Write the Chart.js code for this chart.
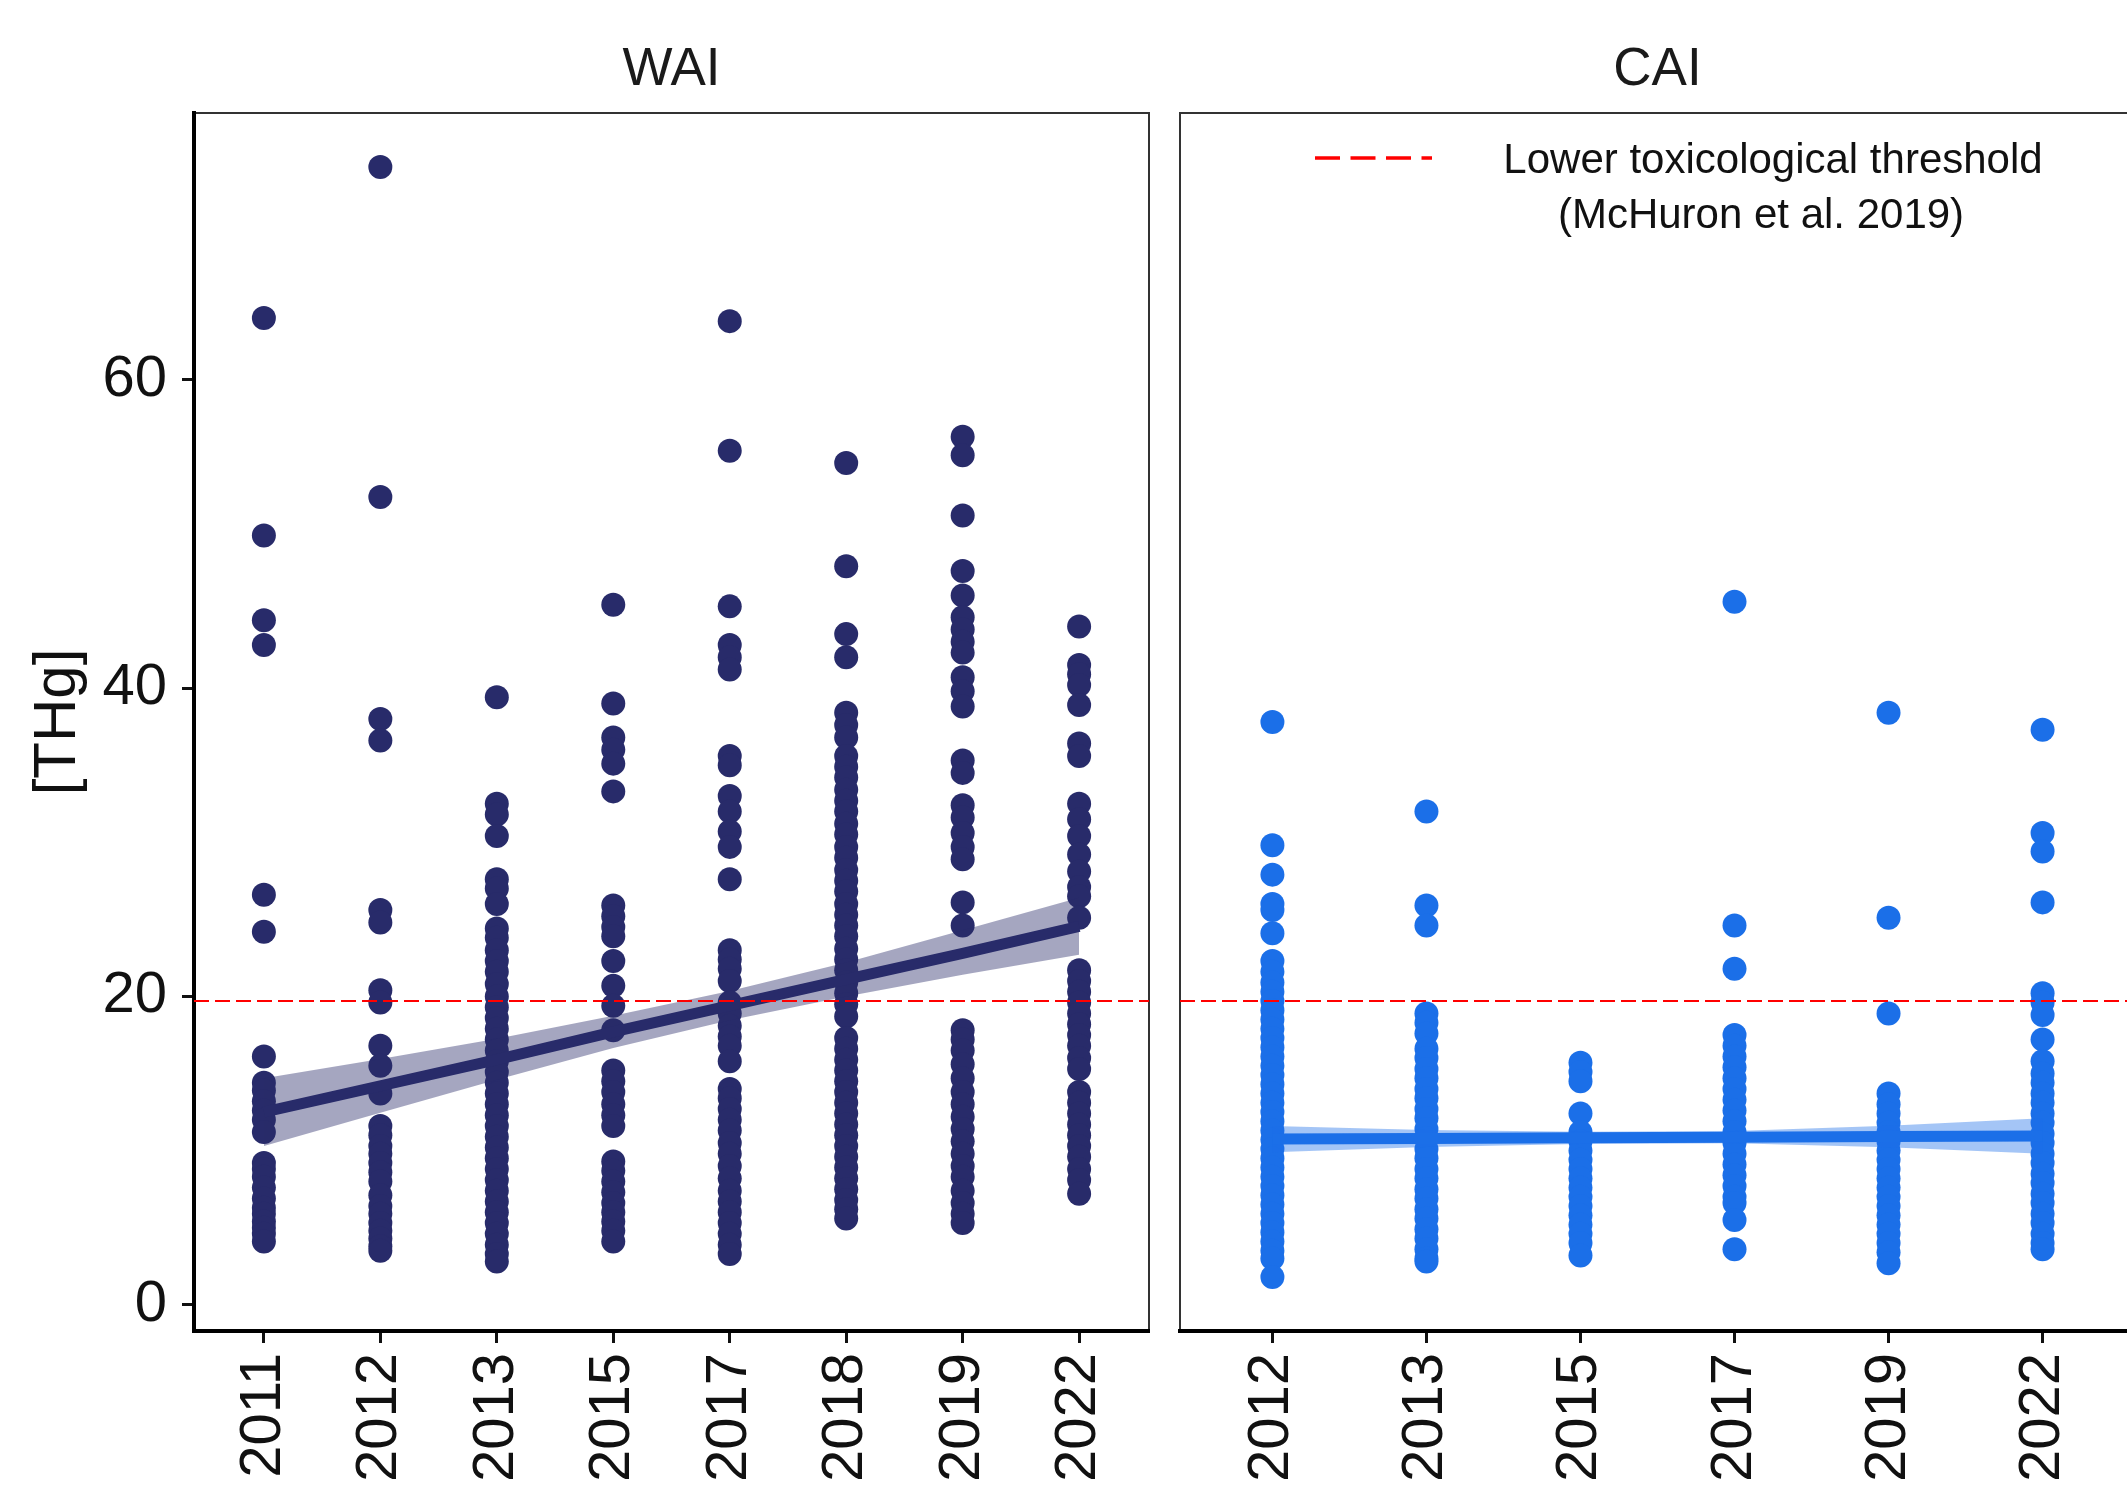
<!DOCTYPE html>
<html>
<head>
<meta charset="utf-8">
<title>THg by year – WAI and CAI</title>
<script src="https://cdn.jsdelivr.net/npm/chart.js@4.4.1/dist/chart.umd.min.js"></script>
<style>
  html, body { margin: 0; padding: 0; background: #ffffff; overflow: hidden; width: 2127px; height: 1487px; }
  #wai { position: absolute; left: 0; top: 0; width: 1165px; height: 1487px; }
  #cai { position: absolute; left: 1165px; top: 0; width: 990px; height: 1487px; }
</style>
</head>
<body>
<canvas id="wai" width="1165" height="1487"></canvas>
<canvas id="cai" width="990" height="1487"></canvas>
<script>
// ---- WAI: THg per sampling year ----
const waiYears = ['2011', '2012', '2013', '2015', '2017', '2018', '2019', '2022'];
const wai2011 = [64.0, 49.9, 44.4, 42.8, 26.6, 24.2, 16.1, 14.4, 13.9, 13.2, 12.6, 12.0, 11.2, 9.2, 8.8, 8.3, 7.6, 6.9, 6.3, 5.9, 5.4, 5.0, 4.6, 4.1];
const wai2012 = [73.8, 52.4, 38.0, 36.6, 25.6, 24.8, 20.4, 19.6, 16.8, 15.5, 13.7, 11.6, 11.0, 10.3, 9.8, 9.2, 8.6, 8.0, 7.1, 6.4, 5.9, 5.3, 4.8, 4.3, 3.8, 3.5];
const wai2013 = [39.4, 32.5, 31.8, 30.4, 27.6, 27.0, 26.0, 24.4, 23.8, 23.0, 22.3, 21.6, 20.8, 20.0, 19.3, 18.6, 17.9, 17.2, 16.5, 15.8, 15.1, 14.4, 13.7, 13.0, 12.3, 11.6, 10.9, 10.2, 9.5, 8.8, 8.1, 7.4, 6.7, 6.0, 5.3, 4.6, 3.9, 3.3, 2.8];
const wai2015 = [45.4, 39.0, 36.8, 36.0, 35.1, 33.3, 25.9, 25.2, 24.5, 23.9, 22.3, 20.7, 19.4, 17.8, 15.2, 14.5, 13.8, 13.0, 12.3, 11.6, 9.3, 8.7, 8.0, 7.3, 6.6, 6.0, 5.4, 4.8, 4.1];
const wai2017 = [63.8, 55.4, 45.3, 42.8, 42.0, 41.2, 35.6, 35.0, 33.0, 32.0, 30.7, 29.7, 27.6, 23.0, 22.4, 21.8, 21.0, 19.6, 18.9, 18.1, 17.4, 16.8, 15.8, 14.0, 13.4, 12.7, 12.0, 11.3, 10.5, 9.8, 9.0, 8.2, 7.4, 6.7, 6.0, 5.3, 4.6, 3.9, 3.3];
const wai2018 = [54.6, 47.9, 43.5, 42.0, 38.4, 37.6, 36.8, 35.6, 34.9, 34.2, 33.4, 32.7, 32.0, 31.2, 30.5, 29.7, 29.0, 28.2, 27.5, 26.8, 26.0, 25.3, 24.6, 23.9, 23.1, 22.4, 21.7, 20.9, 20.2, 19.5, 18.7, 17.3, 16.6, 15.9, 15.2, 14.5, 13.8, 13.1, 12.4, 11.7, 11.0, 10.3, 9.6, 8.9, 8.2, 7.5, 6.8, 6.2, 5.6];
const wai2019 = [56.3, 55.1, 51.2, 47.6, 46.0, 44.6, 43.8, 43.0, 42.3, 40.7, 39.8, 38.8, 35.3, 34.5, 32.4, 31.6, 30.6, 29.7, 28.9, 26.1, 24.6, 17.8, 17.2, 16.5, 15.6, 14.7, 13.8, 13.0, 12.2, 11.4, 10.6, 9.8, 9.0, 8.3, 7.4, 6.6, 5.9, 5.3];
const wai2022 = [44.0, 41.5, 40.9, 40.2, 38.9, 36.4, 35.6, 32.5, 31.5, 30.4, 29.2, 28.1, 27.1, 26.5, 25.1, 21.7, 21.0, 20.3, 19.6, 18.9, 18.2, 17.5, 16.8, 16.0, 15.3, 13.8, 13.1, 12.4, 11.7, 11.0, 10.3, 9.6, 8.8, 8.1, 7.2];
// linear trend and its confidence band, one value per year
const waiFit   = [12.5, 14.2, 15.9, 17.7, 19.4, 21.1, 22.8, 24.55];
const waiLower = [10.3, 12.45, 14.6, 16.65, 18.45, 20.0, 21.4, 22.7];
const waiUpper = [14.7, 15.95, 17.25, 18.75, 20.35, 22.2, 24.3, 26.4];

// ---- CAI: THg per sampling year ----
const caiYears = ['2012', '2013', '2015', '2017', '2019', '2022'];
const cai2012 = [37.8, 29.8, 27.9, 26.0, 25.6, 24.1, 22.3, 21.6, 20.9, 20.3, 19.7, 19.1, 18.5, 17.9, 17.3, 16.7, 16.1, 15.5, 14.9, 14.3, 13.7, 13.1, 12.5, 11.9, 11.3, 10.7, 10.1, 9.5, 8.9, 8.3, 7.7, 7.1, 6.5, 5.9, 5.3, 4.7, 4.1, 3.5, 3.0, 1.8];
const cai2013 = [32.0, 25.9, 24.6, 18.9, 18.3, 17.6, 16.6, 16.0, 15.3, 14.7, 14.0, 13.4, 12.7, 12.1, 11.4, 10.8, 10.1, 9.5, 8.8, 8.2, 7.5, 6.9, 6.2, 5.6, 4.9, 4.3, 3.6, 3.0, 2.8];
const cai2015 = [15.7, 15.1, 14.5, 12.4, 11.2, 10.6, 10.0, 9.4, 8.8, 8.2, 7.6, 7.0, 6.4, 5.8, 5.2, 4.6, 4.0, 3.2];
const cai2017 = [45.6, 24.6, 21.8, 17.5, 16.8, 16.1, 15.4, 14.7, 14.0, 13.3, 12.6, 11.9, 11.2, 10.5, 9.8, 9.1, 8.4, 7.7, 7.0, 6.6, 5.5, 3.6];
const cai2019 = [38.4, 25.1, 18.9, 13.7, 13.0, 12.4, 11.8, 11.2, 10.6, 10.0, 9.4, 8.8, 8.2, 7.6, 7.0, 6.4, 5.8, 5.2, 4.6, 4.0, 3.4, 2.7];
const cai2022 = [37.3, 30.6, 29.4, 26.1, 20.2, 19.6, 18.8, 17.2, 15.8, 15.0, 14.4, 13.7, 13.1, 12.4, 11.8, 11.1, 10.5, 9.8, 9.2, 8.5, 7.9, 7.2, 6.6, 5.9, 5.3, 4.6, 4.0, 3.6];
const caiFit   = [10.75, 10.79, 10.83, 10.87, 10.91, 10.95];
const caiLower = [9.9, 10.24, 10.43, 10.47, 10.21, 9.8];
const caiUpper = [11.6, 11.34, 11.23, 11.27, 11.61, 12.1];

// ---- shared reference values and labels ----
const threshold = 19.7;
const yTicks = [0, 20, 40, 60];
const yMin = -1.7;
const yMax = 77.3;
const yTitle = '[THg]';
const legendLabel = ['Lower toxicological threshold', '(McHuron et al. 2019)'];

const FONT = '"Liberation Sans", Arial, Helvetica, sans-serif';
const INK = '#111111';

function columnsToPoints(cols) {
  const pts = [];
  cols.forEach((vals, i) => vals.forEach(v => pts.push({ x: i + 1, y: v })));
  return pts;
}
function seriesToPoints(vals) {
  return vals.map((v, i) => ({ x: i + 1, y: v }));
}

// thin frame around the panel, drawn under the axis lines
const panelFrame = {
  id: 'panelFrame',
  beforeDraw(chart) {
    const a = chart.chartArea, ctx = chart.ctx;
    ctx.save();
    ctx.strokeStyle = '#333333';
    ctx.lineWidth = 2;
    ctx.strokeRect(a.left, a.top, a.right - a.left, a.bottom - a.top);
    ctx.restore();
  }
};

// facet strip title above each panel
const stripTitle = {
  id: 'stripTitle',
  afterDraw(chart, args, opts) {
    const a = chart.chartArea, ctx = chart.ctx;
    ctx.save();
    ctx.fillStyle = '#1a1a1a';
    ctx.font = '53px ' + FONT;
    ctx.textAlign = 'center';
    ctx.textBaseline = 'alphabetic';
    ctx.fillText(opts.text, (a.left + a.right) / 2, 85);
    ctx.restore();
  }
};

// key for the dashed threshold line
const thresholdKey = {
  id: 'thresholdKey',
  afterDraw(chart, args, opts) {
    if (!opts.show) return;
    const ctx = chart.ctx;
    ctx.save();
    ctx.strokeStyle = '#FF0000';
    ctx.lineWidth = 3.5;
    ctx.setLineDash([25, 10.5]);
    ctx.beginPath();
    ctx.moveTo(150, 158);
    ctx.lineTo(267, 158);
    ctx.stroke();
    ctx.setLineDash([]);
    ctx.fillStyle = INK;
    ctx.font = '42px ' + FONT;
    ctx.textAlign = 'center';
    ctx.textBaseline = 'alphabetic';
    ctx.fillText(legendLabel[0], 608, 173);
    ctx.fillText(legendLabel[1], 596, 228);
    ctx.restore();
  }
};

function makePanel(canvasId, cfg) {
  const n = cfg.years.length;
  const xMin = 0.4, xMax = n + 0.6;
  return new Chart(document.getElementById(canvasId), {
    type: 'scatter',
    data: {
      datasets: [
        {
          type: 'line', label: 'threshold',
          data: [{ x: xMin, y: threshold }, { x: xMax, y: threshold }],
          borderColor: '#FF0000', borderWidth: 2, borderDash: [15, 6],
          pointRadius: 0, fill: false, order: 0
        },
        {
          type: 'line', label: 'trend',
          data: seriesToPoints(cfg.fit),
          borderColor: cfg.color, borderWidth: 11, borderCapStyle: 'butt',
          pointRadius: 0, fill: false, tension: 0, order: 1
        },
        {
          type: 'line', label: 'upper',
          data: seriesToPoints(cfg.upper),
          borderColor: 'rgba(0,0,0,0)', borderWidth: 0,
          backgroundColor: cfg.band, fill: '+1',
          pointRadius: 0, tension: 0, order: 2
        },
        {
          type: 'line', label: 'lower',
          data: seriesToPoints(cfg.lower),
          borderColor: 'rgba(0,0,0,0)', borderWidth: 0,
          pointRadius: 0, fill: false, tension: 0, order: 3
        },
        {
          label: 'THg',
          data: columnsToPoints(cfg.columns),
          backgroundColor: cfg.color, borderWidth: 0,
          pointRadius: 12, pointHoverRadius: 12, order: 4
        }
      ]
    },
    options: {
      responsive: false,
      animation: false,
      events: [],
      layout: { padding: cfg.padding },
      plugins: {
        legend: { display: false },
        tooltip: { enabled: false },
        stripTitle: { text: cfg.title },
        thresholdKey: { show: cfg.showKey }
      },
      scales: {
        x: {
          type: 'linear', min: xMin, max: xMax,
          afterBuildTicks: s => { s.ticks = cfg.years.map((_, i) => ({ value: i + 1 })); },
          afterFit: s => { s.height = 156; },
          ticks: {
            callback: v => cfg.years[v - 1] ?? '',
            autoSkip: false, minRotation: 90, maxRotation: 90,
            font: { family: FONT, size: 58 }, color: INK, padding: 10
          },
          grid: { display: true, drawOnChartArea: false, drawTicks: true, tickLength: 12, tickWidth: 3, tickColor: INK },
          border: { display: true, color: '#000000', width: 4 }
        },
        y: {
          type: 'linear', min: yMin, max: yMax, display: cfg.showY,
          afterBuildTicks: s => { s.ticks = yTicks.map(v => ({ value: v })); },
          afterFit: s => { s.width = cfg.showY ? 194 : 0; },
          ticks: { font: { family: FONT, size: 58 }, color: INK, padding: 15 },
          grid: { display: true, drawOnChartArea: false, drawTicks: true, tickLength: 12, tickWidth: 3, tickColor: INK },
          border: { display: true, color: '#000000', width: 4 },
          title: {
            display: true, text: yTitle, color: INK,
            font: { family: FONT, size: 60 }, padding: { top: 22, bottom: 0 }
          }
        }
      }
    },
    plugins: [panelFrame, stripTitle, thresholdKey]
  });
}

makePanel('wai', {
  title: 'WAI',
  years: waiYears,
  columns: [wai2011, wai2012, wai2013, wai2015, wai2017, wai2018, wai2019, wai2022],
  fit: waiFit, lower: waiLower, upper: waiUpper,
  color: '#282B6A', band: 'rgba(40,43,106,0.42)',
  showY: true, showKey: false,
  padding: { top: 113, right: 16, left: 0, bottom: 0 }
});

makePanel('cai', {
  title: 'CAI',
  years: caiYears,
  columns: [cai2012, cai2013, cai2015, cai2017, cai2019, cai2022],
  fit: caiFit, lower: caiLower, upper: caiUpper,
  color: '#1B6FE8', band: 'rgba(27,111,232,0.4)',
  showY: false, showKey: true,
  padding: { top: 113, right: 20, left: 15, bottom: 0 }
});
</script>
</body>
</html>
